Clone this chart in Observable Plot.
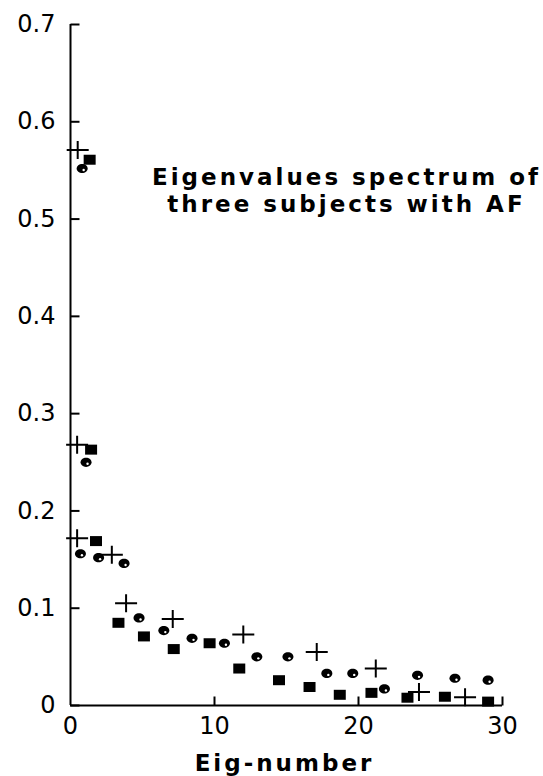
<!DOCTYPE html>
<html>
<head>
<meta charset="utf-8">
<script src="https://cdn.jsdelivr.net/npm/d3@7"></script>
<script src="https://cdn.jsdelivr.net/npm/@observablehq/plot@0.6"></script>
<style>
html, body { margin: 0; padding: 0; background: #fff; }
#chart svg { display: block; }
#chart g[aria-label="text"] { letter-spacing: 3px; }
</style>
</head>
<body>
<div id="chart"></div>
<script>
// Tick values and labels
const xTicks = [0, 10, 20, 30];
const xTickLabels = ["0", "10", "20", "30"];
const yTicks = [0, 0.1, 0.2, 0.3, 0.4, 0.5, 0.6, 0.7];
const yTickLabels = ["0", "0.1", "0.2", "0.3", "0.4", "0.5", "0.6", "0.7"];

// Series 1 (plus markers)
const plusX = [0.5, 0.46, 0.46, 2.87, 3.86, 7.1, 12.0, 17.1, 21.2, 24.2, 27.4];
const plusY = [0.571, 0.268, 0.172, 0.155, 0.105, 0.089, 0.073, 0.055, 0.038, 0.014, 0.0085];

// Series 2 (round markers)
const circX = [0.81, 1.08, 0.69, 1.95, 3.72, 4.76, 6.48, 8.44, 10.69, 12.94, 15.1, 17.8, 19.6, 21.8, 24.1, 26.7, 29.0];
const circY = [0.552, 0.250, 0.156, 0.152, 0.146, 0.090, 0.077, 0.069, 0.064, 0.050, 0.050, 0.033, 0.033, 0.017, 0.031, 0.028, 0.026];

// Series 3 (square markers)
const sqX = [1.33, 1.43, 1.77, 3.33, 5.1, 7.17, 9.66, 11.72, 14.48, 16.6, 18.7, 20.9, 23.4, 26.0, 29.0];
const sqY = [0.561, 0.263, 0.169, 0.085, 0.071, 0.058, 0.064, 0.038, 0.026, 0.019, 0.011, 0.013, 0.008, 0.009, 0.004];

const annotation = "Eigenvalues spectrum of\nthree subjects with AF";
const xLabel = "Eig-number";

const plusData = plusX.map((x, i) => ({x, y: plusY[i]}));
const circData = circX.map((x, i) => ({x, y: circY[i]}));
const sqData = sqX.map((x, i) => ({x, y: sqY[i]}));
const xMin = xTicks[0], yMin = yTicks[0];
const yTickData = yTicks.map(v => ({x: xMin, y: v}));
const xTickData = xTicks.filter(v => v > xMin).map(v => ({x: v, y: yMin}));

// Custom symbols
const thinPlus = {draw(ctx) { ctx.moveTo(-11, 0); ctx.lineTo(11, 0); ctx.moveTo(0, -9); ctx.lineTo(0, 9); }};
const box = {draw(ctx) { ctx.rect(-6, -5, 12, 10); ctx.closePath(); }};
const ellipse = {draw(ctx) {
  const rx = 5.5, ry = 4.6, k = 0.5523;
  ctx.moveTo(rx, 0);
  ctx.bezierCurveTo(rx, ry * k, rx * k, ry, 0, ry);
  ctx.bezierCurveTo(-rx * k, ry, -rx, ry * k, -rx, 0);
  ctx.bezierCurveTo(-rx, -ry * k, -rx * k, -ry, 0, -ry);
  ctx.bezierCurveTo(rx * k, -ry, rx, -ry * k, rx, 0);
  ctx.closePath();
}};
const tickRight = {draw(ctx) { ctx.moveTo(0, 0); ctx.lineTo(9, 0); }};
const tickUp = {draw(ctx) { ctx.moveTo(0, 0); ctx.lineTo(0, -9); }};

const tickFont = "DejaVu Sans";

const chart = Plot.plot({
  width: 543,
  height: 776,
  marginLeft: 70,
  marginRight: 41,
  marginTop: 24,
  marginBottom: 71,
  style: {fontFamily: tickFont, fontSize: "24px", color: "#000", background: "#fff"},
  x: {domain: [0, 30], label: null},
  y: {domain: [0, 0.7], label: null},
  marks: [
    // axis lines
    Plot.ruleX([0], {stroke: "#000", strokeWidth: 2}),
    Plot.ruleY([0], {stroke: "#000", strokeWidth: 2}),
    // inward ticks
    Plot.dot(yTickData, {x: "x", y: "y", symbol: tickRight, r: 5, fill: "none", stroke: "#000", strokeWidth: 2}),
    Plot.dot(xTickData, {x: "x", y: "y", symbol: tickUp, r: 5, fill: "none", stroke: "#000", strokeWidth: 2}),
    // tick labels
    Plot.axisY(yTicks, {anchor: "left", tickSize: 0, tickPadding: 15, tickFormat: d => yTickLabels[yTicks.indexOf(d)], fontSize: 24, fontFamily: tickFont, label: null}),
    Plot.axisX(xTicks, {anchor: "bottom", tickSize: 0, tickPadding: 11, tickFormat: d => xTickLabels[xTicks.indexOf(d)], fontSize: 24, fontFamily: tickFont, label: null}),
    // data
    Plot.dot(plusData, {x: "x", y: "y", symbol: thinPlus, r: 5, fill: "none", stroke: "#000", strokeWidth: 2}),
    Plot.dot(sqData, {x: "x", y: "y", symbol: box, r: 5, fill: "#000", stroke: "none"}),
    Plot.dot(circData, {x: "x", y: "y", symbol: ellipse, r: 5, fill: "#000", stroke: "none"}),
    Plot.dot(circData, {x: "x", y: "y", r: 1.2, fill: "#fff", stroke: "none", dx: 1.5, dy: 1.5}),
    // annotation
    Plot.text([annotation], {frameAnchor: "top", lineAnchor: "top", textAnchor: "middle", dx: 60, dy: 141, fontSize: 23, fontWeight: "bold", fontFamily: tickFont, lineHeight: 1.17, fill: "#000"}),
    // x label
    Plot.text([xLabel], {frameAnchor: "bottom", lineAnchor: "middle", textAnchor: "middle", dx: -2, dy: 58, fontSize: 23, fontWeight: "bold", fontFamily: tickFont, fill: "#000"})
  ]
});
document.getElementById("chart").appendChild(chart);
</script>
</body>
</html>
